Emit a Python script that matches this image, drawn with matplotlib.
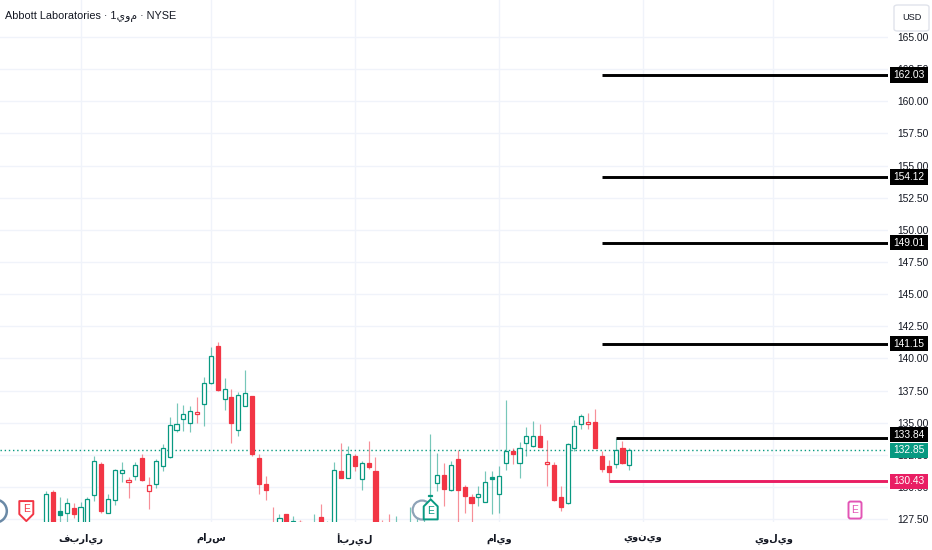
import numpy as np
import matplotlib
matplotlib.use("Agg")
import matplotlib.pyplot as plt
from matplotlib import font_manager as fm
from matplotlib.patches import Rectangle, Polygon, Circle, FancyBboxPatch
import matplotlib.transforms as mtransforms

# ---------------- data ----------------
opens = [126.9, 129.6, 128.12, 127.95, 128.33, 126.9, 127.0, 129.37, 131.76, 128.0,
         128.95, 131.11, 130.42, 130.88, 132.23, 129.68, 130.2, 131.63, 132.33, 134.41,
         135.25, 135.0, 135.66, 136.43, 138.08, 141.0, 136.83, 136.99, 134.39, 136.31,
         137.07, 132.28, 130.2, 127.0, 126.3, 127.86, 125.9, 127.28, 124.5, 124.5,
         127.65, 124.5, 126.5, 131.24, 130.72, 132.41, 130.59, 131.89, 131.24, 126.8,
         125.0, 123.0, 125.0, 124.5, 125.5, 126.5, 129.3, 130.28, 130.9, 129.78,
         132.2, 129.99, 129.21, 129.21, 128.85, 130.8, 129.47, 131.86, 132.78, 131.86,
         133.45, 133.17, 133.97, 131.76, 131.68, 129.21, 128.77, 133.06, 134.86, 134.86,
         135.07, 132.41, 131.63, 131.76, 133.01, 131.71]
highs = [129.68, 129.75, 129.21, 129.16, 128.74, 128.85, 129.21, 132.41, 131.97, 129.42,
         131.4, 131.97, 130.77, 131.97, 132.59, 130.77, 132.15, 133.32, 135.4, 136.49,
         136.39, 136.31, 136.96, 138.53, 140.86, 141.24, 138.46, 137.61, 137.4, 139.08,
         137.1, 132.54, 130.85, 128.43, 127.88, 127.9, 127.73, 127.4, 126.5, 127.86,
         128.69, 127.34, 131.94, 133.45, 133.19, 132.59, 132.02, 133.58, 132.33, 127.4,
         127.9, 127.73, 126.8, 128.43, 127.9, 128.6, 134.1, 132.67, 131.89, 132.02,
         132.85, 130.12, 129.47, 130.07, 131.24, 131.24, 131.6, 136.75, 133.01, 133.53,
         134.67, 135.14, 134.93, 133.63, 131.9, 130.07, 133.4, 135.18, 135.69, 135.77,
         136.05, 132.8, 132.07, 133.84, 133.58, 133.01]
lows = [126.5, 127.0, 127.0, 127.1, 127.55, 126.6, 126.8, 128.9, 128.0, 127.95,
        128.59, 130.41, 129.16, 130.56, 130.45, 128.25, 129.94, 131.24, 132.28, 134.3,
        134.36, 134.3, 135.0, 134.73, 138.0, 137.5, 135.98, 133.45, 133.97, 136.26,
        132.4, 129.42, 128.95, 125.8, 125.9, 125.5, 125.5, 125.0, 123.5, 123.8,
        124.5, 124.0, 126.0, 130.67, 130.67, 131.24, 129.73, 131.37, 124.0, 122.5,
        122.0, 122.5, 123.5, 124.0, 125.0, 126.0, 128.9, 129.68, 128.51, 129.7,
        127.1, 127.99, 127.2, 128.51, 128.8, 127.9, 127.98, 131.32, 131.81, 130.72,
        132.41, 133.1, 133.1, 130.07, 128.9, 128.12, 128.7, 132.8, 134.47, 134.47,
        133.0, 131.19, 130.43, 131.5, 131.8, 131.32]
closes = [129.42, 127.3, 127.8, 128.77, 127.86, 128.43, 129.03, 132.02, 128.12, 129.07,
          131.29, 131.34, 130.5, 131.71, 130.51, 130.12, 132.02, 133.06, 134.83, 134.88,
          135.69, 135.87, 135.82, 138.06, 140.21, 137.55, 137.61, 134.96, 137.12, 137.32,
          132.54, 130.2, 129.78, 126.2, 127.62, 125.8, 127.34, 125.5, 125.8, 126.5,
          125.2, 126.8, 131.29, 130.72, 132.59, 131.63, 131.89, 131.55, 124.8, 124.0,
          123.5, 125.5, 124.5, 126.5, 126.9, 127.1, 129.4, 130.9, 129.81, 131.68,
          129.73, 129.29, 128.77, 129.42, 130.41, 130.64, 130.83, 132.8, 132.54, 133.01,
          133.95, 133.97, 133.11, 131.97, 128.98, 128.43, 133.37, 134.73, 135.51, 135.07,
          133.01, 131.42, 131.16, 132.85, 131.89, 132.85]

month_labels = ["فبراير", "مارس", "أبريل", "مايو", "يونيو", "يوليو"]
month_pos = [5, 24, 45, 66, 87, 106]

price_ticks = [127.5, 130.0, 132.5, 135.0, 137.5, 140.0, 142.5, 145.0, 147.5, 150.0,
               152.5, 155.0, 157.5, 160.0, 162.5, 165.0]

level_prices = [162.03, 154.12, 149.01, 141.15, 133.84]
level_start = [81, 81, 81, 81, 83]
support_price = 130.43
support_start = 82
last_price = 132.85

title = "Abbott Laboratories · 1يوم · NYSE"

# ---------------- style ----------------
TEAL = "#089981"
RED = "#F23645"
PINK = "#E91E63"
EPINK = "#E254B5"
TXT = "#131722"
GRID = "#F0F3FA"

names = {f.name for f in fm.fontManager.ttflist}
if "Liberation Sans Narrow" in names:
    MAIN = "Liberation Sans Narrow"
    k = 1.0
else:
    MAIN = "Liberation Sans"
    k = 0.84
plt.rcParams["font.family"] = [MAIN, "DejaVu Sans"]

W, H = 932, 550
fig = plt.figure(figsize=(W / 100, H / 100), dpi=100)
fig.patch.set_facecolor("white")
ax = fig.add_axes([0, 1 - 522 / H, 888 / W, 522 / H])
ax.set_facecolor("white")
ax.set_xlim(-6.735, 122.71)
ax.set_ylim(127.27, 167.88)
for s in ax.spines.values():
    s.set_visible(False)

# axes, ticks, grid
ax.set_yticks(price_ticks)
ax.set_yticklabels([f"{v:.2f}" for v in price_ticks])
ax.yaxis.tick_right()
ax.set_xticks(month_pos)
ax.set_xticklabels(month_labels)
ax.grid(True, color=GRID, lw=1.0)
ax.set_axisbelow(True)
ax.tick_params(axis="y", length=0, pad=6.5, labelsize=8.8 * k, labelcolor=TXT)
ax.tick_params(axis="x", length=0, pad=8, labelsize=8.5 * k, labelcolor=TXT)
for t in ax.get_xticklabels():
    t.set_fontweight("bold")

# candles (hollow style: colour by change vs previous close, fill by close < open)
n = len(closes)
xs = np.arange(n)
bw = 0.6
for i in range(n):
    o, h, l, c = opens[i], highs[i], lows[i], closes[i]
    prev = closes[i - 1] if i > 0 else o
    col = TEAL if c >= prev else RED
    filled = c < o
    ax.vlines(xs[i], l, h, color=col, lw=0.85, alpha=0.55, zorder=2)
    bot = min(o, c)
    ht = max(abs(c - o), 0.06)
    ax.add_patch(Rectangle((xs[i] - bw / 2, bot), bw, ht,
                           facecolor=col if filled else "white",
                           edgecolor=col, lw=0.9, zorder=3))

# current price dotted line
ax.axhline(last_price, color=TEAL, lw=1.0, linestyle=(0, (1, 2)), zorder=1.5)

# horizontal levels
xr = ax.get_xlim()[1]
for p, s0 in zip(level_prices, level_start):
    ax.hlines(p, s0, xr, color="black", lw=2.1, zorder=4)
ax.hlines(support_price, support_start, xr, color=PINK, lw=2.1, zorder=4)

# ---- markers (pixel-sized shapes at data points) ----
def px_trans(x, y):
    return fig.dpi_scale_trans + mtransforms.ScaledTranslation(x, y, ax.transData)

def poly(x, y, pts, ec, fc="white", lw=1.4):
    pts = [(a / 100, b / 100) for a, b in pts]
    ax.add_patch(Polygon(pts, closed=True, transform=px_trans(x, y), facecolor=fc,
                         edgecolor=ec, lw=lw, clip_on=False, zorder=6, joinstyle="round"))

# dividend circles
ax.add_patch(Circle((0, 0), 0.115, transform=px_trans(-7.42, 128.12), facecolor="white",
                    edgecolor="#6A89A6", lw=1.8, clip_on=False, zorder=5))
ax.add_patch(Circle((0, 0), 0.095, transform=px_trans(54.8, 128.2), facecolor="white",
                    edgecolor="#8EA3B8", lw=1.6, clip_on=False, zorder=5))
# earnings badges
poly(-2.9, 128.12, [(-7, 10), (7, 10), (7, -3), (0, -10), (-7, -3)], RED)
ax.text(-2.9, 128.25, "E", color=RED, fontsize=7.4, ha="center", va="center",
        zorder=7, clip_on=False)
poly(56.05, 128.25, [(-7, -10), (7, -10), (7, 3), (0, 10), (-7, 3)], TEAL)
ax.text(56.05, 128.1, "E", color=TEAL, fontsize=7.4, ha="center", va="center",
        zorder=7, clip_on=False)
ax.add_patch(FancyBboxPatch((-0.065, -0.085), 0.13, 0.17,
                            boxstyle="round,pad=0,rounding_size=0.02",
                            transform=px_trans(117.9, 128.2), facecolor="white",
                            edgecolor=EPINK, lw=1.4, clip_on=False, zorder=6))
ax.text(117.9, 128.2, "E", color=EPINK, fontsize=7.4, ha="center", va="center",
        zorder=7, clip_on=False)

# ---- price labels on the right axis ----
blend = mtransforms.blended_transform_factory(fig.transFigure, ax.transData)

def price_box(p, fc, dy_px=0):
    off = mtransforms.ScaledTranslation(0, dy_px / 100, fig.dpi_scale_trans)
    tr = blend + off
    hh = 15.5 / 12.854
    ax.add_patch(Rectangle((890 / W, p - hh / 2), 38 / W, hh, transform=tr,
                           facecolor=fc, edgecolor="none", clip_on=False, zorder=10))
    ax.text(909 / W, p, f"{p:.2f}", transform=tr, ha="center", va="center",
            color="white", fontsize=8.8 * k, zorder=11, clip_on=False)

for p in level_prices[:-1]:
    price_box(p, "black")
price_box(level_prices[-1], "black", dy_px=3)
price_box(last_price, TEAL)
price_box(support_price, PINK)

# USD box
fig.patches.append(FancyBboxPatch((894 / W, 1 - 31 / H), 35 / W, 26 / H,
                                  boxstyle="round,pad=0,rounding_size=0.004",
                                  transform=fig.transFigure, facecolor="white",
                                  edgecolor="#E0E3EB", lw=1.0, zorder=20))
fig.text(911.5 / W, 1 - 18 / H, "USD", ha="center", va="center", fontsize=7.8 * k,
         color=TXT, zorder=21)

# title
fig.text(5 / W, 1 - 17 / H, title, ha="left", va="center", fontsize=9.3 * k,
         color=TXT, zorder=21)

fig.savefig("out.png", dpi=100, facecolor="white")
